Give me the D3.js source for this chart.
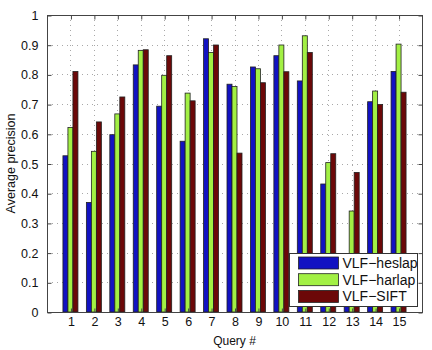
<!DOCTYPE html>
<html>
<head>
<meta charset="utf-8">
<script src="https://cdn.jsdelivr.net/npm/d3@7"></script>
<style>
  html, body { margin: 0; padding: 0; background: #fff; }
  svg text { font-family: "Liberation Sans", Arial, Helvetica, sans-serif; fill: #111; }
</style>
</head>
<body>
<svg id="chart" width="432" height="350"></svg>
<script>
// Average precision per query for each descriptor pipeline
const queries = [1, 2, 3, 4, 5, 6, 7, 8, 9, 10, 11, 12, 13, 14, 15];
const heslap = [0.526, 0.369, 0.597, 0.832, 0.693, 0.575, 0.920, 0.767, 0.825, 0.863, 0.778, 0.431, 0.150, 0.708, 0.810];
const harlap = [0.621, 0.541, 0.667, 0.881, 0.797, 0.737, 0.874, 0.759, 0.819, 0.899, 0.930, 0.503, 0.340, 0.744, 0.902];
const sift   = [0.810, 0.640, 0.724, 0.883, 0.863, 0.711, 0.899, 0.535, 0.772, 0.809, 0.874, 0.533, 0.470, 0.699, 0.740];
const seriesNames = ["VLF\u2212heslap", "VLF\u2212harlap", "VLF\u2212SIFT"];
const seriesColors = ["#1212c2", "#a2f044", "#6c0808"];
const yTicks = [0, 0.1, 0.2, 0.3, 0.4, 0.5, 0.6, 0.7, 0.8, 0.9, 1];

const series = [heslap, harlap, sift];

const svg = d3.select("#chart");
const m = { left: 47, right: 422, top: 15, bottom: 312 };

const x = d3.scaleLinear().domain([0, 16]).range([m.left, m.right]);
const y = d3.scaleLinear().domain([0, 1]).range([m.bottom, m.top]);

// dotted grid
const grid = svg.append("g").attr("stroke", "#a8a8a8").attr("stroke-width", 1)
  .attr("stroke-dasharray", "1,4");
grid.selectAll("line.gx").data(queries).join("line")
  .attr("x1", d => Math.round(x(d)) + 0.5).attr("x2", d => Math.round(x(d)) + 0.5)
  .attr("y1", m.top).attr("y2", m.bottom);
grid.selectAll("line.gy").data(yTicks.slice(1, -1)).join("line")
  .attr("x1", m.left).attr("x2", m.right)
  .attr("y1", d => Math.round(y(d)) + 0.5).attr("y2", d => Math.round(y(d)) + 0.5);

// grouped bars
const groupWidth = 0.64;
const barW = groupWidth / series.length;
const bars = svg.append("g");
series.forEach((vals, s) => {
  bars.selectAll(null).data(vals.map((v, i) => ({ q: queries[i], v }))).join("rect")
    .attr("x", d => x(d.q - groupWidth / 2 + s * barW))
    .attr("width", x(barW) - x(0))
    .attr("y", d => y(d.v))
    .attr("height", d => y(0) - y(d.v))
    .attr("fill", seriesColors[s])
    .attr("stroke", "#222")
    .attr("stroke-width", 0.8);
});

// axes box with inward ticks
const axisColor = "#444";
const box = svg.append("g");
box.append("rect")
  .attr("x", m.left + 0.5).attr("y", m.top + 0.5)
  .attr("width", m.right - m.left).attr("height", m.bottom - m.top)
  .attr("fill", "none").attr("stroke", axisColor).attr("stroke-width", 1);

const xAxisB = d3.axisBottom(x).tickValues(queries).tickSizeInner(-4).tickSizeOuter(0).tickPadding(5);
const gxb = svg.append("g").attr("transform", `translate(0.5,${m.bottom + 0.5})`).call(xAxisB);
const xAxisT = d3.axisTop(x).tickValues(queries).tickSizeInner(-4).tickSizeOuter(0).tickFormat("");
const gxt = svg.append("g").attr("transform", `translate(0.5,${m.top + 0.5})`).call(xAxisT);
const yAxisL = d3.axisLeft(y).tickValues(yTicks).tickSizeInner(-4).tickSizeOuter(0).tickPadding(9)
  .tickFormat(d => d === 0 ? "0" : d === 1 ? "1" : d3.format(".1f")(d));
const gyl = svg.append("g").attr("transform", `translate(${m.left + 0.5},0.5)`).call(yAxisL);
const yAxisR = d3.axisRight(y).tickValues(yTicks).tickSizeInner(-4).tickSizeOuter(0).tickFormat("");
const gyr = svg.append("g").attr("transform", `translate(${m.right + 0.5},0.5)`).call(yAxisR);

[gxb, gxt, gyl, gyr].forEach(g => {
  g.select(".domain").remove();
  g.selectAll(".tick line").attr("stroke", axisColor);
  g.selectAll(".tick text").style("font-size", "12.5px").attr("fill", "#111");
});

// axis titles
svg.append("text")
  .attr("x", (m.left + m.right) / 2).attr("y", 345)
  .attr("text-anchor", "middle").style("font-size", "12px")
  .text("Query #");
svg.append("text")
  .attr("transform", `translate(15,${(m.top + m.bottom) / 2}) rotate(-90)`)
  .attr("text-anchor", "middle").style("font-size", "12.5px")
  .text("Average precision");

// legend
const lg = svg.append("g").attr("transform", "translate(289.5,253.5)");
lg.append("rect").attr("width", 128).attr("height", 53)
  .attr("fill", "#fff").attr("stroke", "#333").attr("stroke-width", 1);
seriesNames.forEach((name, i) => {
  const row = lg.append("g").attr("transform", `translate(0,${9.5 + i * 16.7})`);
  row.append("rect").attr("x", 9).attr("y", -6).attr("width", 40).attr("height", 12)
    .attr("fill", seriesColors[i]).attr("stroke", "#222").attr("stroke-width", 0.8);
  row.append("text").attr("x", 53).attr("y", 5).style("font-size", "14px").text(name);
});
</script>
</body>
</html>
